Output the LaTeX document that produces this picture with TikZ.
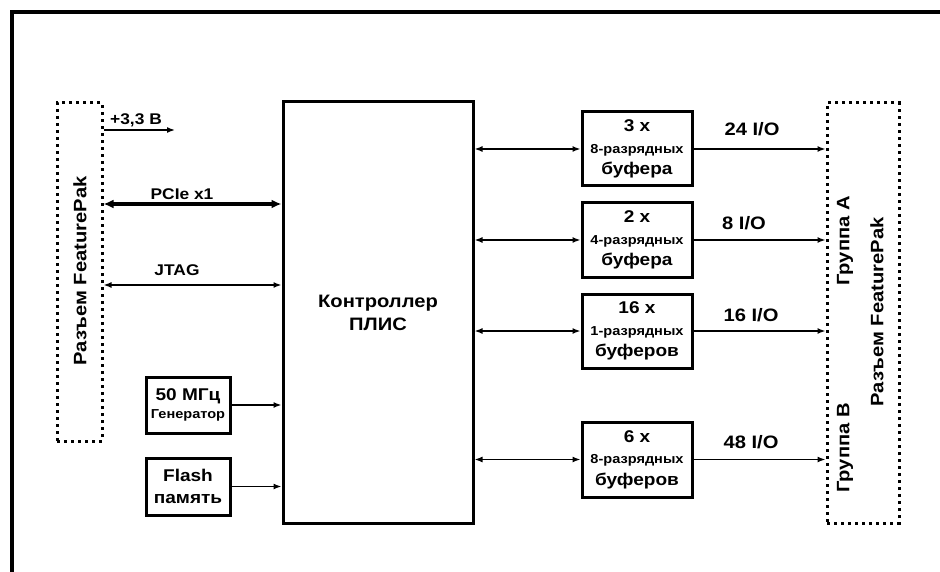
\documentclass[tikz,border=0pt]{standalone}
\usepackage{fontspec}
\setmainfont{Liberation Sans}[FakeStretch=1.12]
\usetikzlibrary{arrows.meta}

\newcommand\bigsz{\fontsize{17}{21.5}\selectfont}
\newcommand\smallsz{\fontsize{13}{21.5}\selectfont}

\tikzset{
  blk/.style={draw, line width=3pt, inner sep=0pt, align=center, font=\bfseries\bigsz},
  conn/.style={draw, line width=3pt, dash pattern=on 3pt off 4pt, inner sep=0pt},
  vlbl/.style={rotate=90, font=\bfseries\fontsize{18}{20}\selectfont},
  lbl/.style={anchor=base, font=\bfseries\fontsize{18}{20}\selectfont},
  slbl/.style={anchor=base, font=\bfseries\fontsize{15.5}{18}\selectfont},
  wire/.style={line width=1.5pt, -{Latex[length=8pt,width=6pt]}},
  bus/.style={line width=1.5pt, {Latex[length=8pt,width=6pt]}-{Latex[length=8pt,width=6pt]}},
  widebus/.style={line width=3.5pt, {Latex[length=10pt,width=9pt]}-{Latex[length=10pt,width=9pt]}}
}

\begin{document}
\begin{tikzpicture}[x=1pt, y=-1pt]
  \useasboundingbox (0,0) rectangle (940,572);
  % frame
  \draw[line width=4pt] (12,572) -- (12,12) -- (940,12);

  % connectors
  \node[conn, minimum width=45, minimum height=338] (fpL) at (79.5,272) {};
  \node[vlbl] (fpLtxt) at (80,271) {Разъем FeaturePak};
  \node[conn, minimum width=72, minimum height=420] (fpR) at (863,313) {};
  \node[vlbl] (grpA) at (845,241) {Группа А};
  \node[vlbl] (grpB) at (845,448) {Группа В};
  \node[vlbl] (fpRtxt) at (877,312) {Разъем FeaturePak};

  % blocks
  \node[blk, minimum width=190, minimum height=421, font=\bfseries\fontsize{18}{23}\selectfont] (fpga) at (378,312.5) {Контроллер\\ПЛИС};
  \node[blk, minimum width=84, minimum height=56] (osc) at (188,405) {50 МГц\\[-3pt]{\smallsz Генератор}};
  \node[blk, minimum width=84, minimum height=57] (flash) at (188,486.5) {Flash\\память};
  \node[blk, minimum width=110, minimum height=74] (buf1) at (637,149) {3 x\\{\smallsz 8-разрядных}\\буфера};
  \node[blk, minimum width=110, minimum height=74] (buf2) at (637,240) {2 x\\{\smallsz 4-разрядных}\\буфера};
  \node[blk, minimum width=110, minimum height=74] (buf3) at (637,331) {16 x\\{\smallsz 1-разрядных}\\буферов};
  \node[blk, minimum width=110, minimum height=75] (buf4) at (637,459.5) {6 x\\{\smallsz 8-разрядных}\\буферов};

  % left side links
  \coordinate (pwr) at (175,130);
  \coordinate (pcie) at (0,204);
  \coordinate (jtag) at (0,285);
  \draw[wire] (fpL.east |- pwr) -- (pwr);
  \draw[widebus] (fpL.east |- pcie) -- (fpga.west |- pcie);
  \draw[bus] (fpL.east |- jtag) -- (fpga.west |- jtag);
  \draw[wire] (osc) -- (fpga.west |- osc);
  \draw[wire] (flash) -- (fpga.west |- flash);
  \node[slbl] (pwrtxt) at (136,125) {+3,3 В};
  \node[slbl] (pcietxt) at (182,200) {PCIe x1};
  \node[slbl] (jtagtxt) at (177,276) {JTAG};

  % buffers
  \foreach \b in {buf1,buf2,buf3,buf4} {
    \draw[bus] (fpga.east |- \b) -- (\b);
    \draw[wire] (\b) -- (fpR.west |- \b);
  }
  \node[lbl] (io1) at (752,136) {24 I/O};
  \node[lbl] (io2) at (744,230) {8 I/O};
  \node[lbl] (io3) at (751,321) {16 I/O};
  \node[lbl] (io4) at (751,448) {48 I/O};
\end{tikzpicture}
\end{document}
